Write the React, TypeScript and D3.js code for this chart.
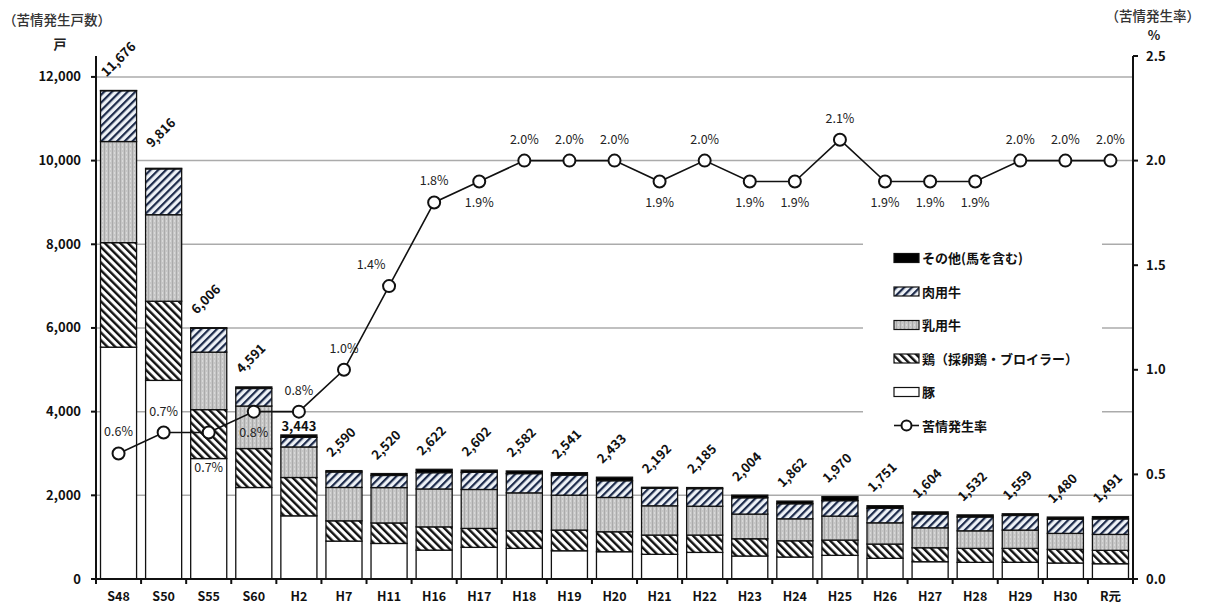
import React, { useRef, useEffect } from 'react';
import * as d3 from 'd3';

const categories = ['S48', 'S50', 'S55', 'S60', 'H2', 'H7', 'H11', 'H16', 'H17', 'H18', 'H19', 'H20', 'H21', 'H22', 'H23', 'H24', 'H25', 'H26', 'H27', 'H28', 'H29', 'H30', 'R元'];
const totals = [11676, 9816, 6006, 4591, 3443, 2590, 2520, 2622, 2602, 2582, 2541, 2433, 2192, 2185, 2004, 1862, 1970, 1751, 1604, 1532, 1559, 1480, 1491];
const pigs = [5541, 4747, 2879, 2187, 1510, 906, 850, 690, 756, 732, 675, 652, 590, 636, 550, 525, 565, 494, 413, 398, 400, 382, 365];
const chickens = [2498, 1892, 1169, 931, 916, 485, 490, 556, 453, 420, 494, 477, 460, 414, 412, 389, 365, 341, 334, 334, 332, 326, 320];
const dairy = [2417, 2068, 1374, 1016, 730, 797, 845, 906, 931, 907, 835, 820, 700, 690, 590, 525, 573, 508, 477, 420, 437, 382, 381];
const beef = [1214, 1095, 570, 420, 230, 370, 290, 390, 410, 460, 480, 400, 420, 420, 390, 360, 370, 348, 330, 330, 350, 340, 370];
const others = [6, 14, 14, 37, 57, 32, 45, 80, 52, 63, 57, 84, 22, 25, 62, 63, 97, 60, 50, 50, 40, 50, 55];
const rates = [0.6, 0.7, 0.7, 0.8, 0.8, 1.0, 1.4, 1.8, 1.9, 2.0, 2.0, 2.0, 1.9, 2.0, 1.9, 1.9, 2.1, 1.9, 1.9, 1.9, 2.0, 2.0, 2.0];
const leftTicks = [0, 2000, 4000, 6000, 8000, 10000, 12000];
const rightTicks = [0, 0.5, 1.0, 1.5, 2.0, 2.5];

const seriesKeys = ['pig', 'chicken', 'dairy', 'beef', 'other'];
const seriesLabels: Record<string, string> = {
  other: 'その他(馬を含む)',
  beef: '肉用牛',
  dairy: '乳用牛',
  chicken: '鶏（採卵鶏・ブロイラー）',
  pig: '豚',
};

const FONT = '"Noto Sans CJK JP", "Noto Sans", sans-serif';

const App: React.FC = () => {
  const svgRef = useRef<SVGSVGElement | null>(null);

  useEffect(() => {
    if (!svgRef.current) return;
    const width = 1205;
    const height = 605;
    const x0 = 96, x1 = 1133, yTop = 56, yBottom = 579;

    const svg = d3.select(svgRef.current);
    svg.selectAll('*').remove();
    svg.attr('width', width).attr('height', height).style('font-family', FONT);

    const rows = categories.map((c, i) => ({
      cat: c,
      pig: pigs[i],
      chicken: chickens[i],
      dairy: dairy[i],
      beef: beef[i],
      other: others[i],
    }));

    const xScale = d3.scaleBand<string>().domain(categories).range([x0, x1]).paddingInner(0.2).paddingOuter(0.1);
    const yLeft = d3.scaleLinear().domain([0, 12500]).range([yBottom, yTop]);
    const yRight = d3.scaleLinear().domain([0, 2.5]).range([yBottom, yTop]);
    const step = (x1 - x0) / categories.length;

    // patterns
    const defs = svg.append('defs');
    const chickPat = defs.append('pattern')
      .attr('id', 'pat-chicken')
      .attr('patternUnits', 'userSpaceOnUse')
      .attr('width', 5.5).attr('height', 10)
      .attr('patternTransform', 'rotate(-45)');
    chickPat.append('rect').attr('width', 5.5).attr('height', 10).attr('fill', '#fff');
    chickPat.append('rect').attr('width', 2.4).attr('height', 10).attr('fill', '#111');

    const beefPat = defs.append('pattern')
      .attr('id', 'pat-beef')
      .attr('patternUnits', 'userSpaceOnUse')
      .attr('width', 5.5).attr('height', 10)
      .attr('patternTransform', 'rotate(45)');
    beefPat.append('rect').attr('width', 5.5).attr('height', 10).attr('fill', '#eef2f7');
    beefPat.append('rect').attr('width', 2.2).attr('height', 10).attr('fill', '#1c2a4a');

    const dairyPat = defs.append('pattern')
      .attr('id', 'pat-dairy')
      .attr('patternUnits', 'userSpaceOnUse')
      .attr('width', 4).attr('height', 4);
    dairyPat.append('rect').attr('width', 4).attr('height', 4).attr('fill', '#c6c6c6');
    dairyPat.append('rect').attr('x', 0).attr('width', 1).attr('height', 4).attr('fill', '#aaaaaa');
    dairyPat.append('rect').attr('x', 2).attr('width', 1).attr('height', 2).attr('fill', '#dadada');

    const fills: Record<string, string> = {
      pig: '#ffffff',
      chicken: 'url(#pat-chicken)',
      dairy: 'url(#pat-dairy)',
      beef: 'url(#pat-beef)',
      other: '#000000',
    };

    // gridlines
    svg.append('g')
      .selectAll('line')
      .data(leftTicks.filter(d => d > 0))
      .enter()
      .append('line')
      .attr('x1', x0).attr('x2', x1)
      .attr('y1', d => yLeft(d)).attr('y2', d => yLeft(d))
      .attr('stroke', '#ababab')
      .attr('stroke-width', 1.5);

    // stacked bars
    const stacked = d3.stack<any>().keys(seriesKeys)(rows);
    stacked.forEach(layer => {
      svg.append('g')
        .selectAll('rect')
        .data(layer)
        .enter()
        .append('rect')
        .attr('x', d => xScale(d.data.cat) as number)
        .attr('width', xScale.bandwidth())
        .attr('y', d => yLeft(d[1]))
        .attr('height', d => Math.max(0, yLeft(d[0]) - yLeft(d[1])))
        .attr('fill', fills[layer.key])
        .attr('stroke', '#111')
        .attr('stroke-width', 1.3);
    });

    // total labels
    const tl = svg.append('g');
    categories.forEach((c, i) => {
      const cx = (xScale(c) as number) + xScale.bandwidth() / 2;
      const top = yLeft(totals[i]);
      const label = d3.format(',')(totals[i]);
      if (c === 'H2') {
        tl.append('text')
          .attr('x', cx).attr('y', top - 4)
          .attr('text-anchor', 'middle')
          .attr('font-size', 13).attr('font-weight', 700).attr('fill', '#111')
          .text(label);
      } else {
        const dy = c === 'S50' ? -20 : -13;
        tl.append('text')
          .attr('transform', `translate(${cx - 12},${top + dy}) rotate(-45)`)
          .attr('text-anchor', 'start')
          .attr('font-size', 13).attr('font-weight', 700).attr('fill', '#111')
          .text(label);
      }
    });

    // rate line
    const line = d3.line<number>()
      .x((_, i) => (xScale(categories[i]) as number) + xScale.bandwidth() / 2)
      .y(d => yRight(d));
    svg.append('path')
      .datum(rates)
      .attr('fill', 'none')
      .attr('stroke', '#111')
      .attr('stroke-width', 1.6)
      .attr('d', line);

    svg.append('g')
      .selectAll('circle')
      .data(rates)
      .enter()
      .append('circle')
      .attr('cx', (_, i) => (xScale(categories[i]) as number) + xScale.bandwidth() / 2)
      .attr('cy', d => yRight(d))
      .attr('r', 6)
      .attr('fill', '#fff')
      .attr('stroke', '#111')
      .attr('stroke-width', 2);

    // rate labels: above, below or up-left of the point
    const below = new Set(['S55', 'S60', 'H17', 'H21', 'H23', 'H24', 'H26', 'H27', 'H28']);
    svg.append('g')
      .selectAll('text')
      .data(rates)
      .enter()
      .append('text')
      .attr('x', (_, i) => {
        const cx = (xScale(categories[i]) as number) + xScale.bandwidth() / 2;
        return categories[i] === 'H11' ? cx - 18 : cx;
      })
      .attr('y', (d, i) => {
        const cy = yRight(d);
        const c = categories[i];
        if (c === 'S55') return cy + 39;
        return below.has(c) ? cy + 25 : cy - 17;
      })
      .attr('text-anchor', 'middle')
      .attr('font-size', 12.5)
      .attr('fill', '#222')
      .text(d => `${d.toFixed(1)}%`);

    // legend
    const lg = svg.append('g');
    lg.append('rect')
      .attr('x', 863).attr('y', 232).attr('width', 239).attr('height', 208)
      .attr('fill', '#fff');
    const legendKeys = ['other', 'beef', 'dairy', 'chicken', 'pig'];
    legendKeys.forEach((k, i) => {
      const y = 258 + i * 33.5;
      lg.append('rect')
        .attr('x', 894).attr('y', y - 4.5).attr('width', 25).attr('height', 9)
        .attr('fill', fills[k]).attr('stroke', '#111').attr('stroke-width', 1.2);
      lg.append('text')
        .attr('x', 922).attr('y', y + 5)
        .attr('font-size', 13).attr('font-weight', 700).attr('fill', '#111')
        .text(seriesLabels[k]);
    });
    const ry = 258 + 5 * 33.5;
    lg.append('line')
      .attr('x1', 894).attr('x2', 919).attr('y1', ry).attr('y2', ry)
      .attr('stroke', '#111').attr('stroke-width', 1.6);
    lg.append('circle')
      .attr('cx', 906.5).attr('cy', ry).attr('r', 5)
      .attr('fill', '#fff').attr('stroke', '#111').attr('stroke-width', 2);
    lg.append('text')
      .attr('x', 922).attr('y', ry + 5)
      .attr('font-size', 13).attr('font-weight', 700).attr('fill', '#111')
      .text('苦情発生率');

    // left axis
    const leftAxis = svg.append('g');
    leftAxis.append('line')
      .attr('x1', x0).attr('x2', x0).attr('y1', yTop).attr('y2', yBottom)
      .attr('stroke', '#111').attr('stroke-width', 2);
    leftTicks.forEach(t => {
      leftAxis.append('line')
        .attr('x1', x0 - 5).attr('x2', x0).attr('y1', yLeft(t)).attr('y2', yLeft(t))
        .attr('stroke', '#111').attr('stroke-width', 2);
      leftAxis.append('text')
        .attr('x', x0 - 15).attr('y', yLeft(t) + 4.5)
        .attr('text-anchor', 'end')
        .attr('font-size', 13).attr('font-weight', 700).attr('fill', '#111')
        .text(d3.format(',')(t));
    });

    // right axis
    const rightAxis = svg.append('g');
    rightAxis.append('line')
      .attr('x1', x1).attr('x2', x1).attr('y1', yTop).attr('y2', yBottom)
      .attr('stroke', '#111').attr('stroke-width', 2);
    rightTicks.forEach(t => {
      rightAxis.append('line')
        .attr('x1', x1).attr('x2', x1 + 5).attr('y1', yRight(t)).attr('y2', yRight(t))
        .attr('stroke', '#111').attr('stroke-width', 2);
      rightAxis.append('text')
        .attr('x', x1 + 13).attr('y', yRight(t) + 4.5)
        .attr('font-size', 13).attr('font-weight', 700).attr('fill', '#111')
        .text(t.toFixed(1));
    });

    // bottom axis
    const bottom = svg.append('g');
    bottom.append('line')
      .attr('x1', x0).attr('x2', x1).attr('y1', yBottom).attr('y2', yBottom)
      .attr('stroke', '#111').attr('stroke-width', 2);
    d3.range(categories.length + 1).forEach(i => {
      bottom.append('line')
        .attr('x1', x0 + i * step).attr('x2', x0 + i * step)
        .attr('y1', yBottom).attr('y2', yBottom + 5)
        .attr('stroke', '#111').attr('stroke-width', 2);
    });
    categories.forEach(c => {
      bottom.append('text')
        .attr('x', (xScale(c) as number) + xScale.bandwidth() / 2)
        .attr('y', 601)
        .attr('text-anchor', 'middle')
        .attr('font-size', 12.5).attr('font-weight', 700).attr('fill', '#111')
        .text(c);
    });

    // axis titles
    svg.append('text')
      .attr('x', 3).attr('y', 25)
      .attr('font-size', 13.5).attr('font-weight', 500).attr('fill', '#333')
      .text('（苦情発生戸数）');
    svg.append('text')
      .attr('x', 60).attr('y', 49)
      .attr('text-anchor', 'middle')
      .attr('font-size', 13).attr('font-weight', 700).attr('fill', '#222')
      .text('戸');
    svg.append('text')
      .attr('x', 1200).attr('y', 21)
      .attr('text-anchor', 'end')
      .attr('font-size', 13.5).attr('font-weight', 500).attr('fill', '#333')
      .text('（苦情発生率）');
    svg.append('text')
      .attr('x', 1154).attr('y', 40)
      .attr('text-anchor', 'middle')
      .attr('font-size', 13).attr('font-weight', 700).attr('fill', '#222')
      .text('%');
  }, []);

  return (
    <div>
      <svg ref={svgRef} style={{ position: 'absolute', left: 0, top: 0 }} />
    </div>
  );
};

export default App;
